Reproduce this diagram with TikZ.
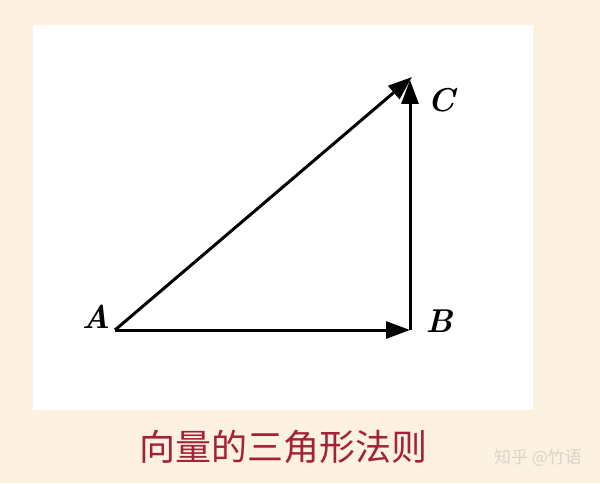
\documentclass[tikz,border=0pt]{standalone}
\usepackage{fontspec}
\newfontfamily\cjk{Noto Sans CJK SC}
\usetikzlibrary{arrows.meta}
\definecolor{bgbeige}{HTML}{FDF1E2}
\definecolor{captionred}{HTML}{A3213B}
\definecolor{markgray}{HTML}{DCD3C8}
\tikzset{
  vec/.style={line width=3pt, -{Triangle[length=24pt,width=17pt]}},
  ptlabel/.style={font=\fontsize{33}{33}\selectfont\bfseries\itshape, inner sep=0pt},
}
\begin{document}
\begin{tikzpicture}[x=1pt,y=1pt]
  \useasboundingbox (0,0) rectangle (600,483);
  \fill[bgbeige] (0,0) rectangle (600,483);
  \fill[white] (33,73) rectangle (533,458);
  \coordinate (A) at (115,153);
  \coordinate (B) at (410,153);
  \coordinate (C) at (410,403);
  \draw[vec] (A) -- (B);
  \draw[vec] (B) -- (C);
  \draw[vec] (A) -- ([xshift=2pt,yshift=3pt]C);
  \node[ptlabel] (la) at (96,166) {A};
  \node[ptlabel] (lb) at (439,162) {B};
  \node[ptlabel] (lc) at (441,383) {C};
  \node[font=\cjk\fontsize{36}{36}\selectfont, text=captionred, inner sep=0pt] (cap) at (283,36) {向量的三角形法则};
  \node[font=\cjk\fontsize{17}{17}\selectfont, text=markgray, inner sep=0pt] (wm) at (538,25) {知乎 @竹语};
\end{tikzpicture}
\end{document}
